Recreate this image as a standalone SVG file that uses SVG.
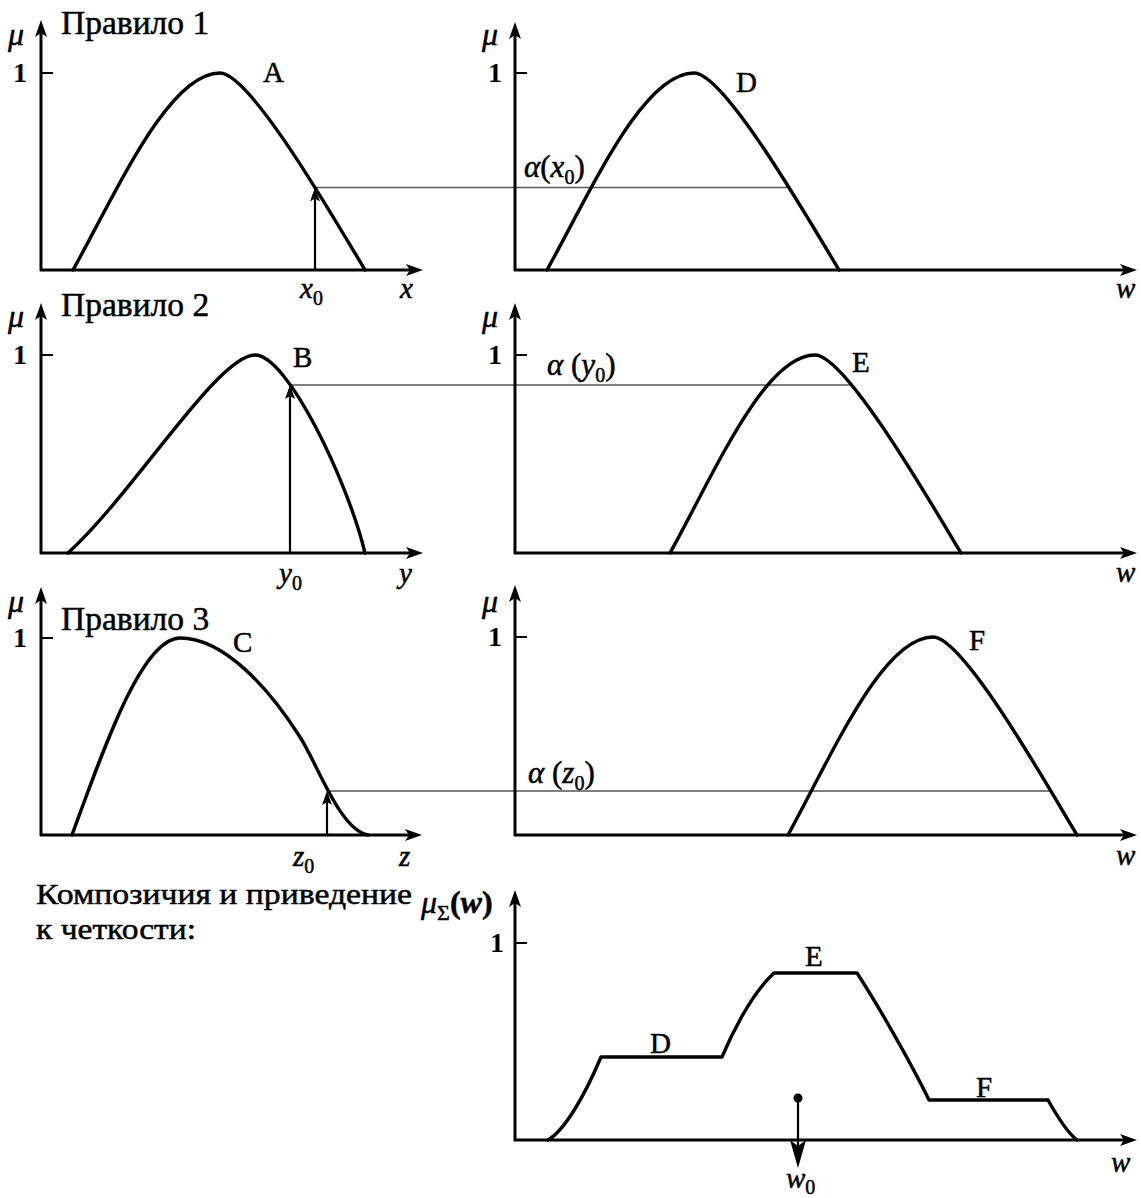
<svg xmlns="http://www.w3.org/2000/svg" width="1141" height="1198" viewBox="0 0 1141 1198" font-family="'Liberation Serif', 'Times New Roman', serif">
<style>
.ax{stroke:#000;stroke-width:3;fill:none}
.cv{stroke:#000;stroke-width:3.4;fill:none;stroke-linecap:round;stroke-linejoin:round}
.lv{stroke:#555;stroke-width:1.6;fill:none}
.tk{stroke:#000;stroke-width:2}
.ar{stroke:#000;stroke-width:2.2;fill:none}
text{font-family:"Liberation Serif","Times New Roman",serif;fill:#000;stroke:#000;stroke-width:0.5}
.t{font-size:29px}
.a{font-size:31px}
.m{font-size:32px;font-style:italic}
.n{font-size:28px;font-weight:bold;stroke-width:0}
.i{font-style:italic}
.h{font-size:33.5px}
.c{font-size:30px}
.s{font-size:20px;font-style:normal}
</style>
<defs>
<marker id="ah" markerUnits="userSpaceOnUse" markerWidth="18" markerHeight="12" refX="5" refY="6" orient="auto"><path d="M0,0 L17,6 L0,12 L4,6 z" fill="#000"/></marker>
<marker id="sh" markerUnits="userSpaceOnUse" markerWidth="15" markerHeight="10" refX="5" refY="5" orient="auto"><path d="M0,0 L14,5 L0,10 L3,5 z" fill="#000"/></marker>
</defs>

<g id="connectors">
<line class="lv" x1="315" y1="187.5" x2="789" y2="187.5"/>
<line class="lv" x1="290" y1="385" x2="853" y2="385"/>
<line class="lv" x1="327" y1="791" x2="1051" y2="791"/>
<line class="ar" x1="315" y1="270" x2="315" y2="196.5" marker-end="url(#sh)"/>
<line class="ar" x1="290" y1="553" x2="290" y2="394" marker-end="url(#sh)"/>
<line class="ar" x1="327" y1="835" x2="327" y2="800" marker-end="url(#sh)"/>
</g>

<g id="rule1-input">
<line class="ax" x1="41" y1="271" x2="41" y2="32" marker-end="url(#ah)"/>
<line class="ax" x1="40" y1="270" x2="411" y2="270" marker-end="url(#ah)"/>
<line class="tk" x1="41" y1="73" x2="53" y2="73"/>
<path class="cv" d="M73,270 C117,191 168.5,73 220,73 C250,73 332,215 365,270"/>
<text class="m" x="8" y="45">μ</text>
<text class="h" x="61" y="34">Правило 1</text>
<text class="n" x="13" y="82">1</text>
<text class="t" x="263" y="82">A</text>
<text class="t i" x="300" y="298">x<tspan class="s" dy="7">0</tspan></text>
<text class="t i" x="400" y="298">x</text>
</g>

<g id="rule1-output">
<line class="ax" x1="515" y1="271" x2="515" y2="34" marker-end="url(#ah)"/>
<line class="ax" x1="514" y1="270" x2="1125" y2="270" marker-end="url(#ah)"/>
<line class="tk" x1="515" y1="73" x2="527" y2="73"/>
<path class="cv" d="M547,270 C591,191 642.5,73 694,73 C724,73 806,215 839,270"/>
<text class="m" x="482" y="45">μ</text>
<text class="n" x="488" y="82">1</text>
<text class="t" x="736" y="92">D</text>
<text class="a" x="524" y="177"><tspan class="i">α</tspan>(<tspan class="i">x</tspan><tspan class="s" dy="7">0</tspan><tspan dy="-7">)</tspan></text>
<text class="t i" x="1116" y="298">w</text>
</g>

<g id="rule2-input">
<line class="ax" x1="41" y1="554" x2="41" y2="315" marker-end="url(#ah)"/>
<line class="ax" x1="40" y1="553" x2="411" y2="553" marker-end="url(#ah)"/>
<line class="tk" x1="41" y1="355" x2="53" y2="355"/>
<path class="cv" d="M68,553 C133.5,493.6 217.6,355 255,355 C288,355 348.5,483.7 365,553"/>
<text class="m" x="8" y="327">μ</text>
<text class="h" x="61" y="316">Правило 2</text>
<text class="n" x="13" y="364">1</text>
<text class="t" x="293" y="367">B</text>
<text class="t i" x="279" y="583">y<tspan class="s" dy="7">0</tspan></text>
<text class="t i" x="399" y="583">y</text>
</g>

<g id="rule2-output">
<line class="ax" x1="515" y1="554" x2="515" y2="315" marker-end="url(#ah)"/>
<line class="ax" x1="514" y1="553" x2="1125" y2="553" marker-end="url(#ah)"/>
<line class="tk" x1="515" y1="355" x2="527" y2="355"/>
<path class="cv" d="M670,553 C714,474 764,355 815,355 C845,355 928,498 961,553"/>
<text class="m" x="482" y="327">μ</text>
<text class="n" x="488" y="364">1</text>
<text class="t" x="852" y="372">E</text>
<text class="a" x="547" y="375"><tspan class="i">α</tspan> (<tspan class="i">y</tspan><tspan class="s" dy="7">0</tspan><tspan dy="-7">)</tspan></text>
<text class="t i" x="1116" y="582">w</text>
</g>

<g id="rule3-input">
<line class="ax" x1="41" y1="836" x2="41" y2="599" marker-end="url(#ah)"/>
<line class="ax" x1="40" y1="835" x2="410" y2="835" marker-end="url(#ah)"/>
<line class="tk" x1="41" y1="638" x2="53" y2="638"/>
<path class="cv" d="M72,835 C104.4,746.4 142.2,638 180,638 C225,638 270,690 300,737 C318,765 340,830 368,835"/>
<text class="m" x="8" y="612">μ</text>
<text class="h" x="61" y="630">Правило 3</text>
<text class="n" x="13" y="647">1</text>
<text class="t" x="233" y="652">C</text>
<text class="t i" x="293" y="866">z<tspan class="s" dy="7">0</tspan></text>
<text class="t i" x="399" y="866">z</text>
</g>

<g id="rule3-output">
<line class="ax" x1="515" y1="836" x2="515" y2="597" marker-end="url(#ah)"/>
<line class="ax" x1="514" y1="835" x2="1125" y2="835" marker-end="url(#ah)"/>
<line class="tk" x1="515" y1="637" x2="527" y2="637"/>
<path class="cv" d="M788,835 C831.5,755.8 882.3,637 933,637 C963,637 1044,780 1077,835"/>
<text class="m" x="482" y="612">μ</text>
<text class="n" x="488" y="646">1</text>
<text class="t" x="969" y="650">F</text>
<text class="a" x="528" y="783"><tspan class="i">α</tspan> (<tspan class="i">z</tspan><tspan class="s" dy="7">0</tspan><tspan dy="-7">)</tspan></text>
<text class="t i" x="1116" y="865">w</text>
</g>

<g id="composition">
<text class="c" x="36" y="904" textLength="376" lengthAdjust="spacingAndGlyphs">Композичия и приведение</text>
<text class="c" x="36" y="939" textLength="160" lengthAdjust="spacingAndGlyphs">к четкости:</text>
<line class="ax" x1="515" y1="1141" x2="515" y2="902" marker-end="url(#ah)"/>
<line class="ax" x1="514" y1="1140" x2="1125" y2="1140" marker-end="url(#ah)"/>
<line class="tk" x1="515" y1="943" x2="527" y2="943"/>
<path class="cv" d="M548,1140 C565,1130 585,1095 601,1057 L722,1057 C730,1038 750,995 774,973 L857,973 C878,1005 912,1065 929,1100 L1048,1100 C1058,1118 1068,1133 1077,1140"/>
<text x="421" y="913" style="font-size:32px"><tspan class="i">μ</tspan><tspan dy="7" style="font-size:22px">Σ</tspan><tspan dy="-7" font-weight="bold">(<tspan font-style="italic">w</tspan>)</tspan></text>
<text class="n" x="490" y="952">1</text>
<text class="t" x="650" y="1053">D</text>
<text class="t" x="805" y="966">E</text>
<text class="t" x="976" y="1097">F</text>
<circle cx="798" cy="1098" r="4.5" fill="#000"/>
<line class="ar" x1="798" y1="1098" x2="798" y2="1146"/>
<path d="M798,1168 L790,1140 L798,1146 L806,1140 z" fill="#000"/>
<text class="t i" x="786" y="1188">w<tspan class="s" dy="6">0</tspan></text>
<text class="t i" x="1111" y="1172">w</text>
</g>
</svg>
